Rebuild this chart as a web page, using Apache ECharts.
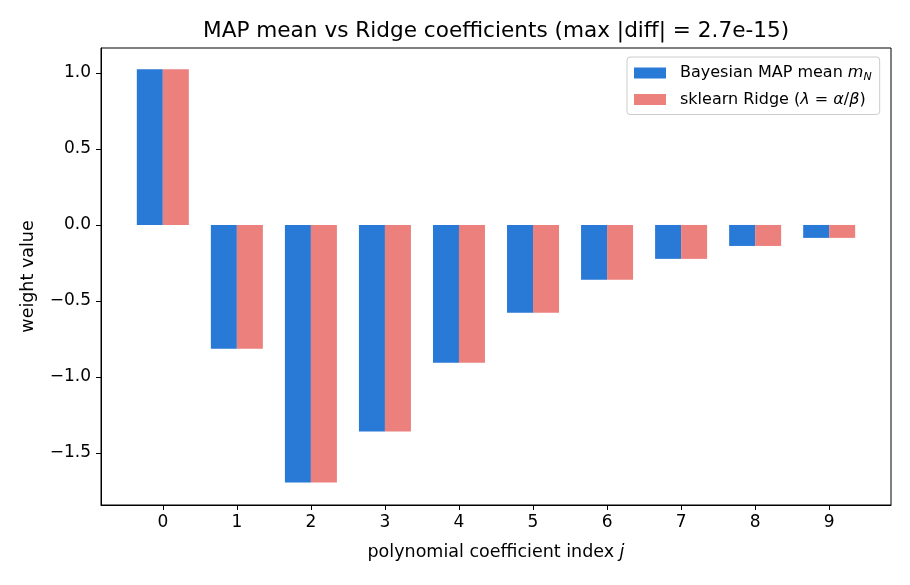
<!DOCTYPE html>
<html>
<head>
<meta charset="utf-8">
<script src="https://cdn.jsdelivr.net/npm/echarts@6/dist/echarts.min.js"></script>
<style>
  html, body { margin: 0; padding: 0; background: #fff; }
  #chart { width: 910px; height: 585px; }
</style>
</head>
<body>
<div id="chart"></div>
<script>
  // coefficient index j
  var indices = [0, 1, 2, 3, 4, 5, 6, 7, 8, 9];
  var mapMean = [1.024, -0.814, -1.694, -1.359, -0.906, -0.578, -0.361, -0.223, -0.138, -0.085];
  var ridge = [1.024, -0.814, -1.694, -1.359, -0.906, -0.578, -0.361, -0.223, -0.138, -0.085];
  var yTicks = [-1.5, -1.0, -0.5, 0.0, 0.5, 1.0];

  var font = 'DejaVu Sans';
  var myChart = echarts.init(document.getElementById('chart'), null, {renderer: 'canvas'});

  function pairs(vals) {
    return indices.map(function (j, i) { return [j, vals[i]]; });
  }

  var option = {
    animation: false,
    backgroundColor: '#fff',
    color: ['#2979d6', '#eb807c'],
    title: {
      text: 'MAP mean vs Ridge coefficients (max |diff| = 2.7e-15)',
      left: 203,   // title sits over the plot area, not the figure centre
      top: 20,
      padding: 0,
      textStyle: {fontFamily: font, fontSize: 21.6, fontWeight: 'normal', color: '#000'}
    },
    legend: {
      orient: 'vertical',
      left: 627,
      top: 57,
      width: 250,
      padding: [8, 8, 7, 7],
      itemWidth: 32,
      itemHeight: 11,
      itemGap: 9,
      borderColor: '#cccccc',
      borderWidth: 1,
      borderRadius: 3,
      backgroundColor: '#fff',
      icon: 'rect',
      formatter: function (name) {
        if (name === 'map') return '{g|}{t|Bayesian MAP mean }{i|m}{s|N}';
        return '{g|}{t|sklearn Ridge (}{i|λ}{t| = }{i|α}{t|/}{i|β}{t|)}';
      },
      textStyle: {
        fontFamily: font,
        fontSize: 16,
        color: '#000',
        rich: {
          g: {width: 9},
          t: {fontFamily: font, fontSize: 16, color: '#000'},
          i: {fontFamily: font, fontSize: 16, fontStyle: 'italic', color: '#000'},
          s: {fontFamily: font, fontSize: 11, fontStyle: 'italic', color: '#000', padding: [8, 0, 0, 0]}
        }
      },
      data: ['map', 'ridge']
    },
    grid: {
      left: 101,
      right: 19,
      top: 48,
      bottom: 80,
      show: true,
      borderColor: '#000',
      borderWidth: 1,
      containLabel: false
    },
    xAxis: {
      type: 'value',
      min: -0.835,
      max: 9.835,
      name: 'polynomial coefficient index {i|j}',
      nameLocation: 'middle',
      nameGap: 38,
      nameTextStyle: {
        fontFamily: font, fontSize: 17.5, color: '#000',
        rich: {i: {fontFamily: font, fontSize: 17.5, fontStyle: 'italic', color: '#000'}}
      },
      splitLine: {show: false},
      axisLine: {show: true, onZero: false, lineStyle: {color: '#000', width: 1}},
      axisTick: {show: true, length: 5, lineStyle: {color: '#000'}, customValues: indices},
      axisLabel: {
        fontFamily: font, fontSize: 17, color: '#000', margin: 9,
        customValues: indices,
        formatter: function (v) { return String(v); }
      }
    },
    yAxis: {
      type: 'value',
      min: -1.842,
      max: 1.164,
      name: 'weight value',
      nameLocation: 'middle',
      nameGap: 64,
      nameTextStyle: {fontFamily: font, fontSize: 17.5, color: '#000'},
      splitLine: {show: false},
      axisLine: {show: true, onZero: false, lineStyle: {color: '#000', width: 1}},
      axisTick: {show: true, length: 5, lineStyle: {color: '#000'}, customValues: yTicks},
      axisLabel: {
        fontFamily: font, fontSize: 17, color: '#000', margin: 10,
        customValues: yTicks,
        formatter: function (v) { return v.toFixed(1).replace('-', '\u2212'); }
      }
    },
    series: [
      {
        name: 'map',
        type: 'bar',
        barWidth: 26,
        barGap: '0%',
        data: pairs(mapMean)
      },
      {
        name: 'ridge',
        type: 'bar',
        barWidth: 26,
        barGap: '0%',
        data: pairs(ridge)
      }
    ]
  };

  myChart.setOption(option);
</script>
</body>
</html>
